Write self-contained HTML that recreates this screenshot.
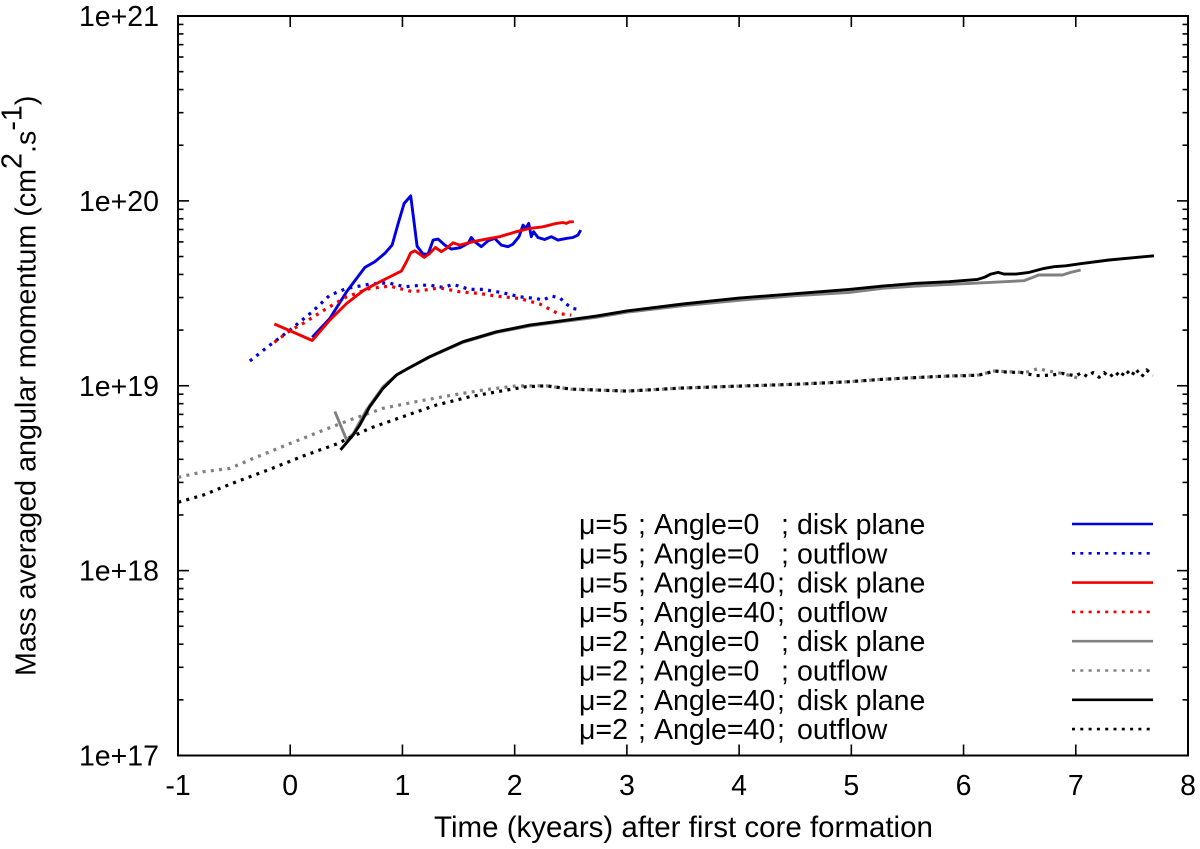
<!DOCTYPE html>
<html lang="en">
<head>
<meta charset="utf-8">
<title>Mass averaged angular momentum</title>
<style>
html,body{margin:0;padding:0;background:#fff;}
svg{display:block;}
text{font-family:"Liberation Sans",sans-serif;font-size:28.5px;fill:#000;}
</style>
</head>
<body>
<svg id="chart" xmlns="http://www.w3.org/2000/svg" width="1200" height="849" viewBox="0 0 1200 849">
<rect width="1200" height="849" fill="#fff"/>
<text transform="translate(35.5,676) rotate(-90)" text-anchor="start" style="font-size:28.7px">Mass averaged angular momentum (cm<tspan dy="-14">2</tspan><tspan dy="14">.s</tspan><tspan dy="-14">-1</tspan><tspan dy="14">)</tspan></text>
<text x="683.5" y="837" text-anchor="middle" style="font-size:29.5px">Time (kyears) after first core formation</text>
</svg>
<script>
// Axis ranges and ticks
const xTicks = [-1, 0, 1, 2, 3, 4, 5, 6, 7, 8];
const yDecades = [17, 18, 19, 20, 21];
const yTickLabels = ["1e+17", "1e+18", "1e+19", "1e+20", "1e+21"];
const yMinorFactors = [2, 3, 4, 5, 6, 7, 8, 9];

// Series: time in kyears, and log10 of the angular momentum in cm2/s
const blueDiskT = [0.196,0.353,0.502,0.665,0.754,0.843,0.908,0.962,1.015,1.074,1.101,1.131,1.184,1.229,1.273,1.318,1.377,1.436,1.510,1.585,1.614,1.644,1.703,1.763,1.822,1.881,1.941,1.985,2.039,2.074,2.098,2.125,2.148,2.169,2.208,2.267,2.326,2.386,2.460,2.519,2.564,2.588];
const blueDiskL = [19.262,19.364,19.508,19.640,19.671,19.716,19.761,19.878,19.986,20.027,19.896,19.755,19.712,19.712,19.788,19.793,19.761,19.739,19.746,19.770,19.802,19.779,19.752,19.784,19.797,19.761,19.752,19.766,19.806,19.869,19.851,19.878,19.806,19.833,19.802,19.791,19.806,19.788,19.797,19.802,19.815,19.842];

const blueOutT = [-0.359,-0.181,-0.003,0.190,0.353,0.502,0.709,0.873,1.021,1.169,1.243,1.362,1.451,1.599,1.718,1.896,2.045,2.193,2.252,2.326,2.401,2.460,2.519,2.570];
const blueOutL = [19.134,19.220,19.301,19.397,19.490,19.526,19.550,19.557,19.535,19.544,19.544,19.532,19.548,19.521,19.521,19.503,19.481,19.472,19.463,19.485,19.476,19.442,19.418,19.413];

const redDiskT = [-0.142,-0.003,0.196,0.353,0.502,0.650,0.739,0.858,0.991,1.036,1.074,1.110,1.154,1.193,1.243,1.294,1.347,1.392,1.451,1.510,1.629,1.748,1.867,2.015,2.134,2.252,2.371,2.430,2.460,2.490,2.528];
const redDiskL = [19.334,19.298,19.245,19.355,19.445,19.514,19.544,19.580,19.620,19.671,19.719,19.730,19.712,19.694,19.716,19.748,19.725,19.743,19.773,19.761,19.779,19.793,19.806,19.833,19.851,19.860,19.878,19.883,19.878,19.887,19.887];

const redOutT = [-0.142,-0.003,0.116,0.324,0.502,0.709,0.887,1.095,1.332,1.510,1.688,1.837,2.045,2.223,2.386,2.504];
const redOutL = [19.235,19.298,19.337,19.418,19.481,19.526,19.539,19.508,19.530,19.508,19.499,19.485,19.472,19.442,19.391,19.382];

const grayDiskT = [0.398,0.502,0.561,0.680,0.828,0.947,1.036,1.243,1.540,1.837,2.134,2.430,2.727,3.000,3.500,4.000,4.500,4.982,5.279,5.575,5.872,6.168,6.537,6.596,6.670,6.881,6.955,7.044];
const grayDiskL = [18.860,18.707,18.740,18.869,18.995,19.058,19.089,19.155,19.235,19.288,19.323,19.347,19.370,19.398,19.433,19.462,19.487,19.505,19.527,19.539,19.548,19.557,19.568,19.581,19.599,19.599,19.613,19.626];

const grayOutT = [-0.997,-0.774,-0.537,-0.329,-0.032,0.264,0.531,0.828,1.125,1.392,1.718,2.015,2.282,2.500,3.000,3.500,4.000,4.500,4.982,5.279,5.575,5.872,6.139,6.273,6.510,6.584,6.668,6.733,6.881,7.030];
const grayOutL = [18.505,18.535,18.553,18.607,18.680,18.752,18.815,18.878,18.914,18.944,18.977,18.999,19.000,18.982,18.971,18.988,18.998,19.008,19.022,19.035,19.044,19.053,19.058,19.080,19.073,19.076,19.094,19.082,19.067,19.040];

const blackDiskT = [0.448,0.561,0.620,0.709,0.828,0.947,1.036,1.243,1.540,1.837,2.134,2.430,2.727,3.000,3.500,4.000,4.500,4.982,5.279,5.575,5.872,6.124,6.184,6.243,6.308,6.362,6.466,6.584,6.718,6.807,6.911,7.059,7.297,7.504,7.697];
const blackDiskL = [18.653,18.734,18.788,18.887,18.986,19.058,19.089,19.157,19.238,19.292,19.328,19.352,19.377,19.405,19.442,19.474,19.498,19.521,19.539,19.554,19.563,19.575,19.586,19.604,19.613,19.604,19.604,19.613,19.635,19.644,19.649,19.662,19.680,19.692,19.703];

const blackOutT = [-0.997,-0.774,-0.478,-0.181,0.116,0.413,0.709,1.006,1.303,1.600,1.896,2.104,2.282,2.500,3.000,3.500,4.000,4.500,4.982,5.279,5.575,5.724,5.872,6.050,6.139,6.199,6.273,6.406,6.510,6.569,6.644,6.718,6.792,6.881,7.000,7.050,7.104,7.154,7.208,7.252,7.302,7.350,7.400,7.445,7.498,7.534,7.587,7.632,7.688];
const blackOutL = [18.370,18.409,18.481,18.548,18.620,18.685,18.770,18.833,18.896,18.941,18.973,18.995,19.000,18.982,18.971,18.988,18.998,19.008,19.022,19.035,19.044,19.049,19.053,19.055,19.058,19.067,19.080,19.073,19.073,19.064,19.055,19.056,19.058,19.067,19.053,19.071,19.049,19.071,19.046,19.071,19.046,19.076,19.046,19.085,19.053,19.091,19.049,19.085,19.055];

const svgNS = "http://www.w3.org/2000/svg";
const chart = document.getElementById("chart");
const plotLeft = 178, plotRight = 1188, plotTop = 16, plotBottom = 755.5;

function xScale(t) {
  return plotLeft + (t - xTicks[0]) / (xTicks[xTicks.length - 1] - xTicks[0]) * (plotRight - plotLeft);
}
function yScale(l) {
  return plotBottom - (l - yDecades[0]) / (yDecades[yDecades.length - 1] - yDecades[0]) * (plotBottom - plotTop);
}
function make(tag, attrs) {
  const el = document.createElementNS(svgNS, tag);
  for (const k in attrs) el.setAttribute(k, attrs[k]);
  return el;
}
function tick(x1, y1, x2, y2, name) {
  const el = make("line", {x1: x1, y1: y1, x2: x2, y2: y2, stroke: "#000", "stroke-width": 1.6});
  
  
  chart.appendChild(el);
}

// X ticks and labels
xTicks.forEach(function (t) {
  const x = xScale(t);
  if (t !== xTicks[0] && t !== xTicks[xTicks.length - 1]) {
    tick(x, plotBottom, x, plotBottom - 11, "x-tick");
    tick(x, plotTop, x, plotTop + 11, "x-tick-top");
  }
  const label = make("text", {x: x, y: 795, "text-anchor": "middle"});
  label.textContent = String(t);
  
  
  chart.appendChild(label);
});

// Y ticks and labels
yDecades.forEach(function (d, i) {
  const y = yScale(d);
  if (i > 0 && i < yDecades.length - 1) {
    tick(plotLeft, y, plotLeft + 11, y, "y-major-tick");
    tick(plotRight, y, plotRight - 11, y, "y-major-tick-right");
  }
  const label = make("text", {x: 159, y: y + 10, "text-anchor": "end"});
  label.textContent = yTickLabels[i];
  
  
  chart.appendChild(label);
  if (i < yDecades.length - 1) {
    yMinorFactors.forEach(function (f) {
      const ym = yScale(d + Math.log10(f));
      tick(plotLeft, ym, plotLeft + 5.5, ym, "y-minor-tick");
      tick(plotRight, ym, plotRight - 5.5, ym, "y-minor-tick-right");
    });
  }
});

// Plot frame
const frame = make("rect", {x: plotLeft, y: plotTop, width: plotRight - plotLeft, height: plotBottom - plotTop, fill: "none", stroke: "#000", "stroke-width": 2});


chart.appendChild(frame);

// Series lines, back to front
const dotted = "3 5.3";
function drawSeries(ts, ls, color, dash, name) {
  const pts = ts.map(function (t, i) { return xScale(t).toFixed(1) + "," + yScale(ls[i]).toFixed(1); }).join(" ");
  const line = make("polyline", {points: pts, fill: "none", stroke: color, "stroke-width": dash ? 3.2 : 2.9, "stroke-linejoin": "round"});
  if (dash) line.setAttribute("stroke-dasharray", dash);
  
  
  chart.appendChild(line);
}
drawSeries(blueDiskT, blueDiskL, "#0000e0", null, "series-mu5-angle0-disk");
drawSeries(blueOutT, blueOutL, "#0000e0", dotted, "series-mu5-angle0-outflow");
drawSeries(redDiskT, redDiskL, "#f00000", null, "series-mu5-angle40-disk");
drawSeries(redOutT, redOutL, "#f00000", dotted, "series-mu5-angle40-outflow");
drawSeries(grayDiskT, grayDiskL, "#808080", null, "series-mu2-angle0-disk");
drawSeries(grayOutT, grayOutL, "#808080", dotted, "series-mu2-angle0-outflow");
drawSeries(blackDiskT, blackDiskL, "#000000", null, "series-mu2-angle40-disk");
drawSeries(blackOutT, blackOutL, "#000000", dotted, "series-mu2-angle40-outflow");

// Legend
const legendMu = ["5", "5", "5", "5", "2", "2", "2", "2"];
const legendAngle = ["0", "0", "40", "40", "0", "0", "40", "40"];
const legendKind = ["disk plane", "outflow", "disk plane", "outflow", "disk plane", "outflow", "disk plane", "outflow"];
const legendColor = ["#0000e0", "#0000e0", "#f00000", "#f00000", "#808080", "#808080", "#000000", "#000000"];

legendMu.forEach(function (mu, i) {
  const rowY = 524 + i * 29.3;
  const t = make("text", {y: rowY + 10});
  
  
  const parts = [
    [579, "\u03BC=" + mu],
    [638, ";"],
    [654, "Angle=" + legendAngle[i]],
    [legendAngle[i] === "0" ? 781 : 777, ";"],
    [797, legendKind[i]]
  ];
  parts.forEach(function (p) {
    const s = make("tspan", {x: p[0]});
    s.textContent = p[1];
    t.appendChild(s);
  });
  chart.appendChild(t);
  const sample = make("line", {x1: 1072, y1: rowY, x2: 1153, y2: rowY, stroke: legendColor[i], "stroke-width": 2.6});
  if (legendKind[i] === "outflow") sample.setAttribute("stroke-dasharray", dotted);
  
  
  chart.appendChild(sample);
});
</script>
</body>
</html>
